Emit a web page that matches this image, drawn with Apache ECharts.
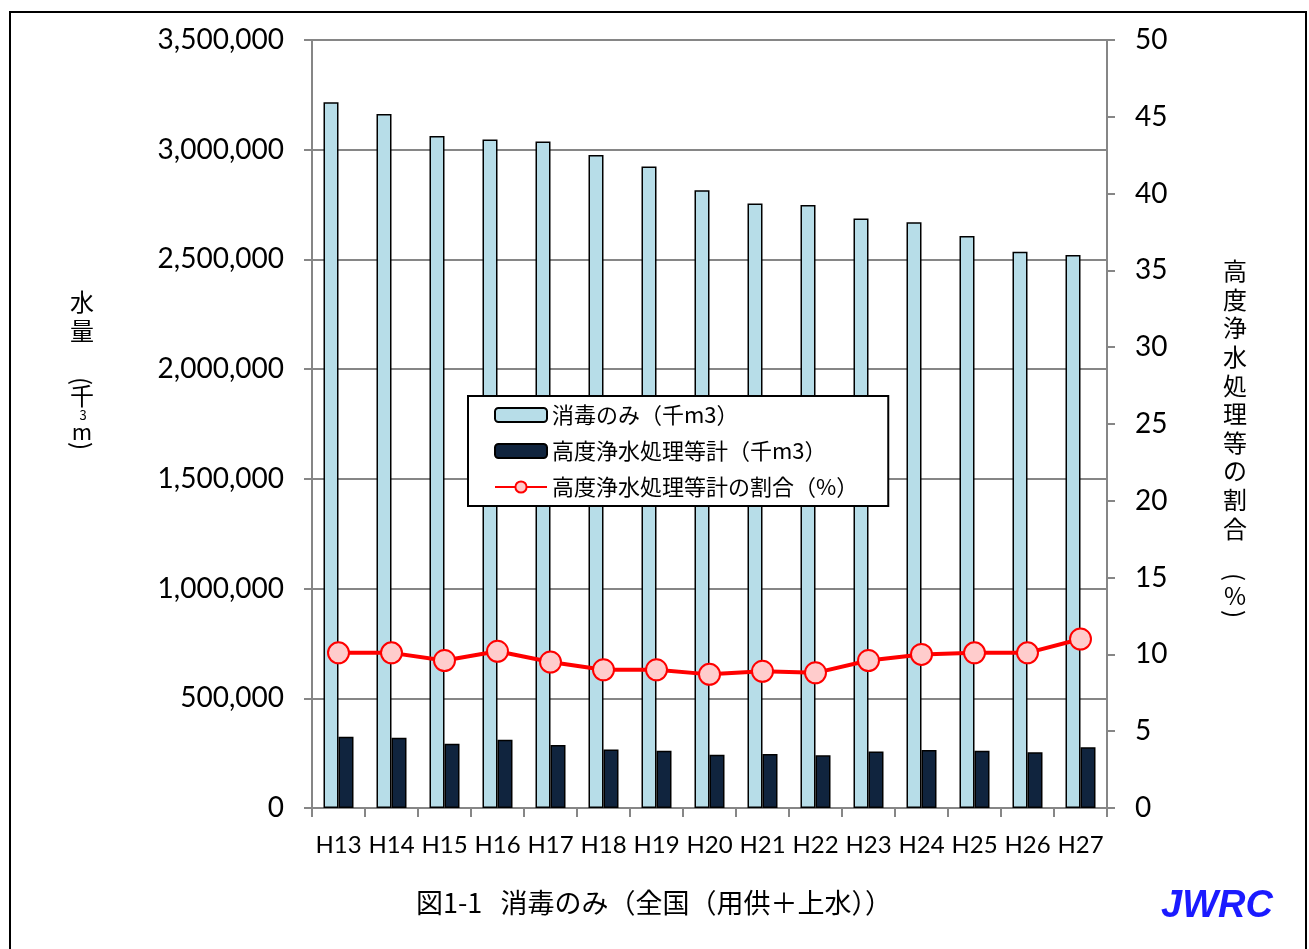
<!DOCTYPE html>
<html><head><meta charset="utf-8">
<script src="https://cdn.jsdelivr.net/npm/echarts@6/dist/echarts.min.js"></script>
<style>html,body{margin:0;padding:0;background:#fff;}#c{width:1309px;height:949px;}</style>
</head><body><div id="c"></div>
<script>
const categories = ['H13','H14','H15','H16','H17','H18','H19','H20','H21','H22','H23','H24','H25','H26','H27'];
const disinfectOnly = [3216000,3163000,3062000,3047000,3037000,2976000,2924000,2815000,2755000,2748000,2687000,2669000,2607000,2535000,2520000];
const advanced = [325000,320000,293000,311000,287000,267000,261000,243000,246000,240000,257000,264000,261000,254000,277000];
const ratio = [10.1,10.1,9.6,10.2,9.5,9.0,9.0,8.7,8.9,8.8,9.6,10.0,10.1,10.1,11.0];
const leftTicks = {min:0,max:3500000,interval:500000};
const rightTicks = {min:0,max:50,interval:5};
const seriesNames = ['消毒のみ（千m3）','高度浄水処理等計（千m3）','高度浄水処理等計の割合（%）'];
const leftTitleChars = ['水','量'];
const leftTitleUnit = ['千','3','m'];
const rightTitleChars = ['高','度','浄','水','処','理','等','の','割','合'];
const rightTitleUnit = ['%'];

const jp = '"Noto Sans CJK JP", sans-serif';
const num = 'Lato, "Open Sans", sans-serif';

function vText(x, y, t, size, rot) {
  return {type:'text', x:x, y:y, rotation:rot||0,
    style:{text:t, fontFamily:jp, fontSize:size, fill:'#000', align:'center', verticalAlign:'middle'}, silent:true};
}
const g = [];
g.push({type:'rect',shape:{x:10,y:12,width:1296,height:945},style:{fill:'none',stroke:'#000',lineWidth:2},silent:true,z:-10});
// left axis title
g.push(vText(82,302,leftTitleChars[0],24));
g.push(vText(82,331,leftTitleChars[1],24));
g.push(vText(82,381,'(',24,-Math.PI/2));
g.push(vText(82,396,leftTitleUnit[0],24));
g.push(vText(83,415,leftTitleUnit[1],13));
g.push(vText(82,432,leftTitleUnit[2],22));
g.push(vText(82,446,')',24,-Math.PI/2));
// right axis title
rightTitleChars.forEach((c,i)=>g.push(vText(1235,271+i*28.6,c,24)));
g.push(vText(1235,577,'(',24,-Math.PI/2));
g.push(vText(1235,596,rightTitleUnit[0],24));
g.push(vText(1235,614,')',24,-Math.PI/2));
g.push({type:'text',left:416,top:889,style:{text:'図1-1   消毒のみ（全国（用供＋上水））',fontFamily:jp,fontSize:27,fill:'#000'}});
g.push({type:'text',left:1161,top:888,style:{text:'JWRC',fontFamily:'"Liberation Sans", Arial, sans-serif',fontSize:38,fontWeight:'bold',fontStyle:'italic',fill:'#1a1aff'}});

const chart = echarts.init(document.getElementById('c'));
chart.setOption({
  animation:false,
  backgroundColor:'#fff',
  grid:{left:312,right:202,top:40,bottom:141},
  legend:{
    orient:'vertical',left:468,top:396,
    backgroundColor:'#fff',borderColor:'#000',borderWidth:2,
    padding:[8,30,8,26],itemGap:14,itemWidth:52,itemHeight:14,
    textStyle:{fontFamily:jp,fontSize:22,color:'#000'},
    data:seriesNames
  },
  xAxis:{
    type:'category',data:categories,
    axisLine:{lineStyle:{color:'#868686',width:2}},
    axisTick:{show:true,length:9,lineStyle:{color:'#868686',width:2}},
    axisLabel:{fontFamily:num,fontSize:24,color:'#000',margin:25,interval:0}
  },
  yAxis:[{
    type:'value',min:leftTicks.min,max:leftTicks.max,interval:leftTicks.interval,
    axisLine:{show:true,lineStyle:{color:'#868686',width:2}},
    axisTick:{show:true,length:8,lineStyle:{color:'#868686',width:2}},
    splitLine:{lineStyle:{color:'#868686',width:2}},
    axisLabel:{fontFamily:num,fontSize:28,color:'#000',margin:28,
      formatter:v=>v.toLocaleString('en-US')}
  },{
    type:'value',min:rightTicks.min,max:rightTicks.max,interval:rightTicks.interval,position:'right',
    axisLine:{show:true,lineStyle:{color:'#868686',width:2}},
    axisTick:{show:true,length:8,lineStyle:{color:'#868686',width:2}},
    splitLine:{show:false},
    axisLabel:{fontFamily:num,fontSize:28,color:'#000',margin:28}
  }],
  series:[{
    name:seriesNames[0],type:'bar',data:disinfectOnly,barWidth:15,barGap:'0%',
    itemStyle:{color:'#b7dde8',borderColor:'#000',borderWidth:1.5}
  },{
    name:seriesNames[1],type:'bar',data:advanced,barWidth:15,barGap:'0%',
    itemStyle:{color:'#10243e',borderColor:'#000',borderWidth:1.5}
  },{
    name:seriesNames[2],type:'line',yAxisIndex:1,data:ratio,
    symbol:'circle',symbolSize:21,z:5,
    lineStyle:{color:'#ff0000',width:4},
    itemStyle:{color:'#ffcccc',borderColor:'#ff0000',borderWidth:2}
  }],
  graphic:g
});
</script></body></html>
